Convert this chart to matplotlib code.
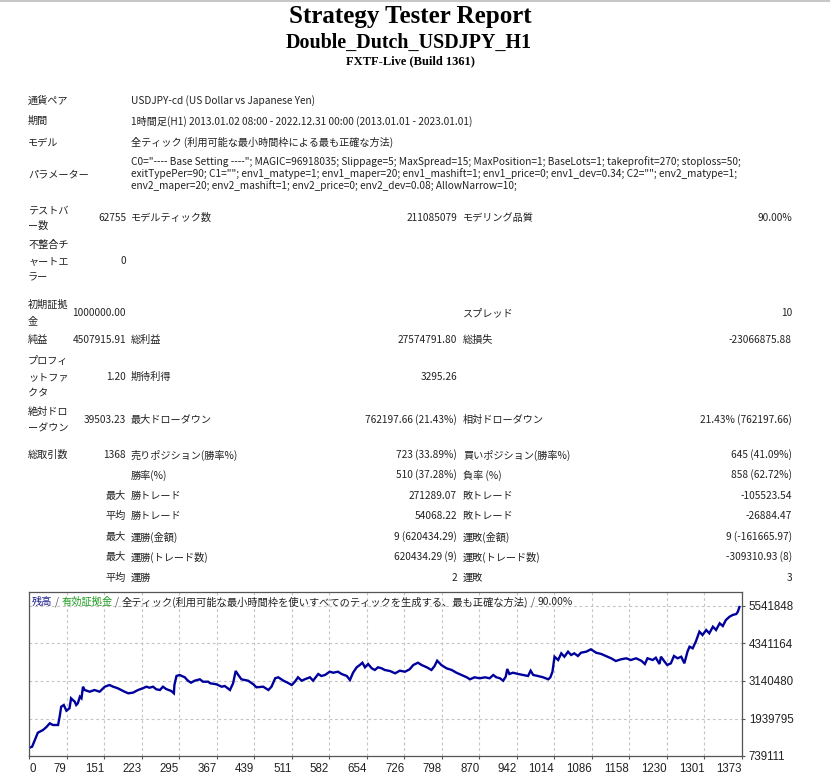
import matplotlib
matplotlib.use('Agg')
import matplotlib.pyplot as plt
from matplotlib.lines import Line2D

plt.rcParams['font.family'] = ['Noto Sans CJK JP', 'DejaVu Sans']

# ---- report data ----
title = "Strategy Tester Report"
ea_name = "Double_Dutch_USDJPY_H1"
server = "FXTF-Live (Build 1361)"

info_rows = [
    ("通貨ペア", "USDJPY-cd (US Dollar vs Japanese Yen)"),
    ("期間", "1時間足(H1) 2013.01.02 08:00 - 2022.12.31 00:00 (2013.01.01 - 2023.01.01)"),
    ("モデル", "全ティック (利用可能な最小時間枠による最も正確な方法)"),
]
param_label = "パラメーター"
param_lines = [
    'C0="---- Base Setting ----"; MAGIC=96918035; Slippage=5; MaxSpread=15; MaxPosition=1; BaseLots=1; takeprofit=270; stoploss=50;',
    'exitTypePer=90; C1=""; env1_matype=1; env1_maper=20; env1_mashift=1; env1_price=0; env1_dev=0.34; C2=""; env2_matype=1;',
    'env2_maper=20; env2_mashift=1; env2_price=0; env2_dev=0.08; AllowNarrow=10;',
]

stat_rows = [
    (["テストバ", "ー数"], "62755", "モデルティック数", "211085079", "モデリング品質", "90.00%"),
    (["不整合チ", "ャートエ", "ラー"], "0", "", "", "", ""),
    (["初期証拠", "金"], "1000000.00", "", "", "スプレッド", "10"),
    (["純益"], "4507915.91", "総利益", "27574791.80", "総損失", "-23066875.88"),
    (["プロフィ", "ットファ", "クタ"], "1.20", "期待利得", "3295.26", "", ""),
    (["絶対ドロ", "ーダウン"], "39503.23", "最大ドローダウン", "762197.66 (21.43%)",
     "相対ドローダウン", "21.43% (762197.66)"),
    (["総取引数"], "1368", "売りポジション(勝率%)", "723 (33.89%)", "買いポジション(勝率%)", "645 (41.09%)"),
    ([], "", "勝率(%)", "510 (37.28%)", "負率 (%)", "858 (62.72%)"),
    ([], "最大", "勝トレード", "271289.07", "敗トレード", "-105523.54"),
    ([], "平均", "勝トレード", "54068.22", "敗トレード", "-26884.47"),
    ([], "最大", "運勝(金額)", "9 (620434.29)", "運敗(金額)", "9 (-161665.97)"),
    ([], "最大", "運勝(トレード数)", "620434.29 (9)", "運敗(トレード数)", "-309310.93 (8)"),
    ([], "平均", "運勝", "2", "運敗", "3"),
]

# balance curve (trade number, balance)
trade_no = [0, 6, 10, 14, 17, 27, 33, 40, 46, 56, 59, 62, 67, 72, 78, 81, 88, 91, 94, 98,
            101, 104, 107, 117, 126, 136, 146, 155, 162, 171, 184, 191, 200, 210, 219, 226, 232, 239, 245, 252,
            258, 264, 274, 279, 280, 284, 290, 300, 306, 312, 319, 329, 335, 345, 349, 361, 371, 377, 387, 393,
            398, 403, 409, 422, 432, 438, 451, 461, 467, 474, 480, 490, 498, 506, 512, 518, 525, 531, 541, 547,
            557, 563, 570, 579, 586, 595, 602, 612, 618, 624, 631, 637, 642, 647, 653, 660, 666, 672, 679, 685,
            695, 705, 714, 724, 733, 740, 749, 756, 766, 775, 781, 786, 794, 804, 814, 823, 833, 843, 849, 858,
            868, 878, 887, 894, 900, 907, 913, 918, 921, 925, 932, 942, 951, 961, 966, 971, 980, 990, 1000, 1004,
            1008, 1012, 1019, 1025, 1031, 1038, 1044, 1050, 1057, 1063, 1073, 1082, 1092, 1102, 1111, 1121, 1130, 1140, 1150, 1159,
            1169, 1179, 1186, 1191, 1201, 1207, 1214, 1217, 1224, 1229, 1236, 1242, 1249, 1256, 1262, 1268, 1272, 1278, 1284, 1291,
            1297, 1304, 1310, 1317, 1323, 1330, 1336, 1342, 1349, 1355, 1362, 1365, 1368]
balance = [1000000, 1037000, 1197000, 1357000, 1485000, 1572000, 1658000, 1786000, 1732000, 1732000,
           1997000, 2318000, 2372000, 2190000, 2266000, 2587000, 2478000, 2372000, 2426000, 2638000,
           2587000, 2958000, 2852000, 2798000, 2852000, 2798000, 2958000, 3012000, 2958000, 2907000,
           2798000, 2747000, 2766000, 2852000, 2907000, 2958000, 2926000, 2958000, 2875000, 2852000,
           2958000, 2884000, 2820000, 2747000, 3012000, 3301000, 3333000, 3259000, 3150000, 3086000,
           3150000, 3195000, 3118000, 3118000, 3067000, 3035000, 2958000, 2980000, 2852000, 3067000,
           3461000, 3333000, 3195000, 3150000, 3035000, 2939000, 2958000, 2852000, 2958000, 3227000,
           3259000, 3150000, 3086000, 3012000, 3118000, 3259000, 3150000, 3195000, 3259000, 3150000,
           3365000, 3301000, 3333000, 3438000, 3406000, 3438000, 3365000, 3301000, 3172000, 3406000,
           3579000, 3653000, 3726000, 3579000, 3685000, 3547000, 3493000, 3579000, 3547000, 3493000,
           3461000, 3387000, 3470000, 3438000, 3515000, 3653000, 3726000, 3653000, 3579000, 3493000,
           3621000, 3790000, 3653000, 3547000, 3493000, 3406000, 3333000, 3259000, 3195000, 3259000,
           3227000, 3259000, 3227000, 3333000, 3259000, 3227000, 3150000, 3278000, 3525000, 3365000,
           3406000, 3365000, 3333000, 3301000, 3470000, 3333000, 3301000, 3259000, 3195000, 3259000,
           3438000, 3918000, 3813000, 4027000, 3918000, 4079000, 3973000, 4027000, 3941000, 4047000,
           4079000, 4155000, 4047000, 4005000, 3941000, 3867000, 3781000, 3835000, 3867000, 3813000,
           3867000, 3790000, 3685000, 3867000, 3813000, 3886000, 3685000, 3918000, 3758000, 3653000,
           3707000, 3941000, 3867000, 3918000, 3707000, 4079000, 4239000, 4187000, 4399000, 4719000,
           4613000, 4773000, 4668000, 4879000, 4773000, 4988000, 4901000, 5094000, 5199000, 5254000,
           5286000, 5359000, 5507916]

x_labels = ["0", "79", "151", "223", "295", "367", "439", "511", "582", "654",
            "726", "798", "870", "942", "1014", "1086", "1158", "1230", "1301", "1373"]
y_labels = ["739111", "1939795", "3140480", "4341164", "5541848"]

chart_title = [("残高", '#1a1a8c'), ("/", '#555555'), ("有効証拠金", '#1c9c1c'), ("/", '#555555'),
               ("全ティック(利用可能な最小時間枠を使いすべてのティックを生成する、最も正確な方法)", '#222222'),
               ("/", '#555555'), ("90.00%", '#222222')]

# ---- figure ----
W, H = 830, 782
fig = plt.figure(figsize=(W / 100, H / 100), dpi=100)
fig.patch.set_facecolor('white')


def px(x, y):
    return x / W, 1 - y / H


jp = ['Noto Sans CJK JP', 'DejaVu Sans']
fs = 7.3
txt = '#222222'

fig.add_artist(Line2D([0, 1], [1 - 0.8 / H, 1 - 0.8 / H], color='#c8c8c8', lw=1.5))

serif = ['Liberation Serif', 'DejaVu Serif']
fig.text(*px(410, 17), title, family=serif, weight='bold', fontsize=18, ha='center', va='center')
fig.text(*px(409, 43), ea_name, family=serif, weight='bold', fontsize=14.4, ha='center', va='center')
fig.text(*px(410, 61), server, family=serif, weight='bold', fontsize=9, ha='center', va='center')

# header rows
for (lab, val), y in zip(info_rows, [101, 121, 142]):
    fig.text(*px(28, y), lab, family=jp, fontsize=fs, color=txt, va='center')
    fig.text(*px(131, y), val, family=jp, fontsize=fs, color=txt, va='center')
fig.text(*px(28, 174), param_label, family=jp, fontsize=fs, color=txt, va='center')
for i, line in enumerate(param_lines):
    fig.text(*px(131, 162 + 12 * i), line, family=jp, fontsize=fs, color=txt, va='center')

# statistics rows
row_y = [218, 261, 313, 340, 377, 420, 455, 475, 496, 516, 537, 557, 578]
for (labs, v1, l2, v2, l3, v3), y in zip(stat_rows, row_y):
    n = len(labs)
    for j, s in enumerate(labs):
        fig.text(*px(28, y + (j - (n - 1) / 2) * 16), s, family=jp, fontsize=fs, color=txt, va='center')
    fig.text(*px(126, y), v1, family=jp, fontsize=fs, color=txt, va='center', ha='right')
    fig.text(*px(131, y), l2, family=jp, fontsize=fs, color=txt, va='center')
    fig.text(*px(457, y), v2, family=jp, fontsize=fs, color=txt, va='center', ha='right')
    fig.text(*px(463, y), l3, family=jp, fontsize=fs, color=txt, va='center')
    fig.text(*px(792, y), v3, family=jp, fontsize=fs, color=txt, va='center', ha='right')

# ---- balance chart ----
left, right, top, bottom = 29, 742, 592, 756
ax = fig.add_axes([left / W, 1 - bottom / H, (right - left) / W, (bottom - top) / H])
y_ticks = [int(s) for s in y_labels]
step = y_ticks[1] - y_ticks[0]
ax.set_ylim(y_ticks[0], y_ticks[0] + step * (bottom - top) / 37.5)
x_max = int(x_labels[-1])
ax.set_xlim(0, x_max)
x_pos = [x_max * i / (len(x_labels) - 1) for i in range(len(x_labels))]

ax.plot(trade_no, balance, color='#00009c', lw=1.7, solid_joinstyle='miter')

ax.set_xticks(x_pos, x_labels)
ax.set_yticks(y_ticks, y_labels)
for i, t in enumerate(ax.get_xticklabels()):
    t.set_ha('left' if i == 0 else 'right')
ax.yaxis.tick_right()
ax.tick_params(axis='both', direction='out', length=2.5, width=0.8, color='#555555',
               labelsize=8.3, labelcolor='#222222', labelfontfamily='Liberation Sans')
ax.tick_params(axis='x', pad=2.5)
ax.tick_params(axis='y', pad=2.5)
ax.grid(True, ls=(0, (2.5, 2.5)), color='#c4c4c4', lw=0.8)
for sp in ax.spines.values():
    sp.set_color('#555555')
    sp.set_linewidth(0.9)

# multicoloured chart caption
renderer = fig.canvas.get_renderer()
x0 = 32
for s, c in chart_title:
    gap = 2.5 if s == "/" else 0
    t = fig.text(*px(x0 + gap, 602), s, fontsize=7.35, color=c, va='center', family=jp)
    bb = t.get_window_extent(renderer)
    x0 += bb.width + 2 * gap

plt.savefig('out.png', dpi=100, facecolor='white')
